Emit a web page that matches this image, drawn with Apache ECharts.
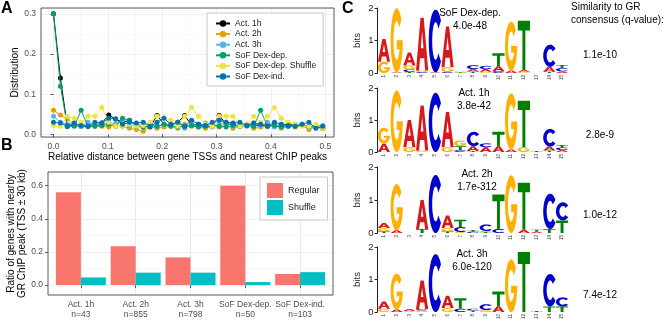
<!DOCTYPE html>
<html>
<head>
<meta charset="utf-8">
<script src="https://cdn.jsdelivr.net/npm/echarts@6/dist/echarts.min.js"></script>
<style>html,body{margin:0;padding:0;background:#fff}#main{width:670px;height:323px}</style>
</head>
<body>
<div id="main"></div>
<script>
var FONT = 'Liberation Sans, Arial, sans-serif';

// ---- panel A: distance distribution ----
var distX = [0, 0.0127, 0.0254, 0.0381, 0.0508, 0.0635, 0.0762, 0.0889, 0.1016, 0.1143,
  0.127, 0.1397, 0.1524, 0.1651, 0.1778, 0.1905, 0.2032, 0.2159, 0.2286, 0.2413,
  0.254, 0.2667, 0.2794, 0.2921, 0.3048, 0.3175, 0.3302, 0.3429, 0.3556, 0.3683,
  0.381, 0.3937, 0.4064, 0.4191, 0.4318, 0.4445, 0.4572, 0.4699, 0.4826, 0.4953];
var act1h = [.300, .140, .020, .022, .020, .020, .022, .028, .048, .038, .030, .035, .022, .020, .018, .047, .025, .022, .030, .047,
  .022, .025, .018, .020, .047, .025, .025, .020, .025, .025, .020, .025, .020, .022, .025, .022, .022, .020, .018, .015];
var act2h = [.060, .048, .038, .025, .020, .022, .020, .020, .018, .025, .020, .015, .012, .008, .020, .015, .018, .020, .015, .025,
  .020, .018, .015, .020, .018, .022, .015, .020, .022, .015, .018, .020, .022, .015, .020, .018, .022, .012, .020, .015];
var act3h = [.045, .030, .025, .028, .020, .030, .025, .022, .030, .025, .035, .020, .025, .022, .028, .020, .025, .022, .030, .015,
  .025, .020, .028, .018, .025, .030, .020, .025, .020, .028, .022, .030, .018, .025, .020, .022, .025, .018, .020, .022];
var dexDep = [.300, .120, .022, .020, .060, .020, .020, .022, .025, .020, .040, .035, .020, .018, .022, .020, .025, .020, .018, .020,
  .022, .018, .020, .025, .020, .018, .022, .020, .022, .020, .060, .020, .022, .018, .020, .025, .022, .020, .020, .018];
var dexDepShuffle = [.022, .020, .045, .040, .030, .045, .045, .067, .030, .020, .022, .025, .020, .022, .030, .045, .040, .035, .020, .045,
  .067, .045, .025, .020, .045, .045, .045, .020, .025, .045, .030, .045, .067, .040, .030, .025, .020, .020, .025, .015];
var dexInd = [.030, .028, .020, .028, .022, .020, .030, .028, .040, .038, .025, .030, .028, .030, .020, .030, .040, .025, .030, .020,
  .035, .025, .022, .030, .035, .030, .028, .030, .022, .028, .025, .020, .030, .025, .022, .020, .025, .030, .015, .020];
var distNames = ['Act. 1h', 'Act. 2h', 'Act. 3h', 'SoF Dex-dep.', 'SoF Dex-dep. Shuffle', 'SoF Dex-ind.'];
var distColors = ['#000000', '#E69F00', '#56B4E9', '#009E73', '#F0E442', '#0072B2'];
var distTicks = [0, 0.1, 0.2, 0.3, 0.4, 0.5];
var distYTicks = [0, 0.1, 0.2, 0.3];

// ---- panel B: ratio of genes with nearby peak ----
var ratioCats = ['Act. 1h\nn=43', 'Act. 2h\nn=855', 'Act. 3h\nn=798', 'SoF Dex-dep.\nn=50', 'SoF Dex-ind.\nn=103'];
var ratioRegular = [0.56, 0.235, 0.167, 0.60, 0.067];
var ratioShuffle = [0.046, 0.075, 0.075, 0.018, 0.078];
var ratioYTicks = [0, 0.2, 0.4, 0.6];

// ---- panel C: motif logos (letter, bits), bottom to top ----
var logoDexDep = [
  [['G', .35], ['A', .70]], [['A', .02], ['G', 1.97]], [['T', .03], ['C', .08], ['G', .12], ['A', .40]],
  [['C', .03], ['G', .05], ['A', 1.62]], [['A', .02], ['C', 1.93]], [['C', .03], ['G', .15], ['A', 1.25]],
  [['T', .02], ['G', .03]], [['T', .05], ['A', .07], ['C', .12]], [['G', .04], ['A', .08], ['C', .10]],
  [['C', .06], ['A', .15], ['T', .40]], [['A', .08], ['G', 1.50]], [['G', .04], ['A', .05], ['T', 1.52]],
  [], [['T', .04], ['A', .15], ['C', .68]], [['A', .05], ['C', .10], ['T', .10]]
];
var logoAct1h = [
  [['A', .26], ['G', .50]], [['G', 1.92]], [['G', .15], ['A', .85]],
  [['G', .05], ['A', 1.40]], [['C', 1.85]], [['G', .15], ['A', 1.10]],
  [['C', .06], ['T', .12], ['G', .18]], [['T', .03], ['A', .15], ['C', .45]], [['A', .15], ['C', .12]],
  [['A', .18], ['T', .45]], [['A', .08], ['G', 1.75]], [['G', .15], ['T', 1.45]],
  [['T', .03]], [['T', .05], ['A', .12], ['C', .55]], [['A', .06], ['C', .08], ['T', .08]]
];
var logoAct2h = [
  [['T', .05], ['G', .10], ['A', .15]], [['A', .08], ['G', 1.40]], [],
  [['T', .12], ['A', .88]], [['C', 1.76]], [['T', .05], ['G', .10], ['A', .38]],
  [['G', .03], ['C', .15], ['T', .22]], [['C', .04], ['T', .05]], [['T', .03], ['G', .03], ['C', .20]],
  [['C', .12], ['T', 1.05]], [['G', 1.75]], [['A', .10], ['T', 1.42]],
  [['A', .04], ['T', .06]], [['T', .12], ['C', 1.07]], [['T', .38], ['C', .55]]
];
var logoAct3h = [
  [['G', .10], ['A', .22]], [['A', .08], ['G', 1.10]], [['G', .03], ['A', .06]],
  [['G', .05], ['C', .04], ['A', .88]], [['C', 1.78]], [['G', .12], ['A', .38]],
  [['C', .10], ['T', .32]], [['T', .05], ['C', .05]], [['G', .06], ['C', .18]],
  [['A', .18], ['T', .45]], [['G', 1.62]], [['T', 1.85]],
  [['T', .03]], [['T', .17], ['C', 1.0]], [['T', .17], ['C', .28]]
];
var logos = [logoDexDep, logoAct1h, logoAct2h, logoAct3h];
var logoTitles = ['SoF Dex-dep.\n4.0e-48', 'Act. 1h\n3.8e-42', 'Act. 2h\n1.7e-312', 'Act. 3h\n6.0e-120'];
var logoQ = ['1.1e-10', '2.8e-9', '1.0e-12', '7.4e-12'];
var logoPositions = [1, 2, 3, 4, 5, 6, 7, 8, 9, 10, 11, 12, 13, 14, 15];

// layout
var gridA = {left: 41, top: 8, width: 293, height: 129};
var gridB = {left: 48, top: 172, width: 285, height: 123};
var logoTops = [8, 88, 167, 247];
var logoHeights = [65, 64, 66, 65];
var logoLeft = 377.6, logoWidth = 190.8;
var logoTitlePos = [[470, 13], [474, 93], [477, 174], [472, 254]];

// letter glyphs (0..100 box)
function arcPts(cx, cy, rx, ry, a0, a1, n) {
  var pts = [];
  for (var i = 0; i <= n; i++) {
    var t = (a0 + (a1 - a0) * i / n) * Math.PI / 180;
    pts.push([cx + rx * Math.cos(t), cy - ry * Math.sin(t)]);
  }
  return pts;
}
function poly(pts) {
  return 'M' + pts.map(function (p) { return p[0].toFixed(2) + ',' + p[1].toFixed(2); }).join('L') + 'Z';
}
var glyphA = 'M0,100L37,0L63,0L100,100L75,100L67,77L33,77L25,100Z M39,58L61,58L50,25Z';
var glyphC = poly(arcPts(50, 50, 50, 50, 40, 320, 48).concat(arcPts(50, 50, 25, 30, 320, 40, 48)));
var glyphG = poly(arcPts(50, 50, 50, 50, 40, 360, 48)
  .concat([[100, 50], [50, 50], [50, 64], [73, 64]])
  .concat(arcPts(50, 50, 26, 30, 332, 40, 48)));
var glyphT = 'M0,0L100,0L100,20L62,20L62,100L38,100L38,20L0,20Z';
var glyphs = [glyphA, glyphC, glyphG, glyphT];
var glyphColors = ['#D7191C', '#0000CC', '#FFB000', '#008000'];

function stackLetters(logo) {
  var out = [];
  logo.forEach(function (col, i) {
    var base = 0;
    col.forEach(function (l) {
      out.push([i + 1, base, base + l[1], 'ACGT'.indexOf(l[0])]);
      base += l[1];
    });
  });
  return out;
}
function renderLetter(params, api) {
  var p = api.value(0), y0 = api.value(1), y1 = api.value(2), code = api.value(3);
  var tl = api.coord([p - 0.48, y1]);
  var br = api.coord([p + 0.48, y0]);
  var h = br[1] - tl[1];
  if (h < 0.3) return null;
  return {
    type: 'path',
    shape: {pathData: glyphs[code], x: tl[0], y: tl[1], width: br[0] - tl[0], height: h, layout: 'cover'},
    style: {fill: glyphColors[code]}
  };
}

var myChart = echarts.init(document.getElementById('main'));

var grids = [gridA, gridB];
logoTops.forEach(function (t, i) {
  grids.push({left: logoLeft, top: t, width: logoWidth, height: logoHeights[i]});
});

var labelStyle = {fontFamily: FONT, fontSize: 8.5, color: '#4D4D4D'};
var tickStyle = {show: true, length: 3, lineStyle: {color: '#333', width: 0.8}};
var majorGrid = {show: true, lineStyle: {color: '#EBEBEB', width: 1}};
var minorGrid = {show: true, lineStyle: {color: '#F2F2F2', width: 0.6}};

var xAxes = [
  // A major
  {type: 'value', gridIndex: 0, min: -0.023, max: 0.516, minInterval: 0.1, maxInterval: 0.1,
    axisLine: {show: false}, axisTick: Object.assign({customValues: distTicks}, tickStyle),
    axisLabel: Object.assign({customValues: distTicks, margin: 5, formatter: function (v) { return v.toFixed(1); }}, labelStyle),
    splitLine: majorGrid,
    name: 'Relative distance between gene TSSs and nearest ChIP peaks', nameLocation: 'middle', nameGap: 13,
    nameTextStyle: {fontFamily: FONT, fontSize: 10, color: '#000'}},
  // A minor
  {type: 'value', gridIndex: 0, min: -0.023, max: 0.516, minInterval: 0.05, maxInterval: 0.05,
    axisLine: {show: false}, axisTick: {show: false}, axisLabel: {show: false}, splitLine: minorGrid},
  // B
  {type: 'value', gridIndex: 1, min: 0.4, max: 5.6, minInterval: 1, maxInterval: 1,
    axisLine: {show: false}, axisTick: Object.assign({customValues: [1, 2, 3, 4, 5]}, tickStyle),
    axisLabel: Object.assign({customValues: [1, 2, 3, 4, 5], margin: 5, lineHeight: 10,
      formatter: function (v) { return ratioCats[Math.round(v) - 1]; }}, labelStyle),
    splitLine: majorGrid}
];
var yAxes = [
  {type: 'value', gridIndex: 0, min: -0.0066, max: 0.3146, minInterval: 0.1, maxInterval: 0.1,
    axisLine: {show: false}, axisTick: Object.assign({customValues: distYTicks}, tickStyle),
    axisLabel: Object.assign({customValues: distYTicks, margin: 5, formatter: function (v) { return v.toFixed(1); }}, labelStyle),
    splitLine: majorGrid,
    name: 'Distribution', nameLocation: 'middle', nameGap: 21,
    nameTextStyle: {fontFamily: FONT, fontSize: 10, color: '#000'}},
  {type: 'value', gridIndex: 0, min: -0.0066, max: 0.3146, minInterval: 0.05, maxInterval: 0.05,
    axisLine: {show: false}, axisTick: {show: false}, axisLabel: {show: false}, splitLine: minorGrid},
  {type: 'value', gridIndex: 1, min: -0.06, max: 0.683, minInterval: 0.2, maxInterval: 0.2,
    axisLine: {show: false}, axisTick: Object.assign({customValues: ratioYTicks}, tickStyle),
    axisLabel: Object.assign({customValues: ratioYTicks, margin: 5, formatter: function (v) { return v.toFixed(1); }}, labelStyle),
    splitLine: majorGrid,
    name: 'Ratio of genes with nearby\nGR ChIP peak (TSS \u00b1 30 kb)', nameLocation: 'middle', nameGap: 17,
    nameTextStyle: {fontFamily: FONT, fontSize: 10, color: '#000', lineHeight: 11}},
  {type: 'value', gridIndex: 1, min: -0.06, max: 0.683, minInterval: 0.1, maxInterval: 0.1,
    axisLine: {show: false}, axisTick: {show: false}, axisLabel: {show: false}, splitLine: minorGrid}
];
logos.forEach(function (lg, i) {
  xAxes.push({type: 'value', gridIndex: 2 + i, min: 0.5, max: 15.5, minInterval: 1, maxInterval: 1,
    axisLine: {show: false}, axisTick: {show: false}, splitLine: {show: false},
    axisLabel: {customValues: logoPositions, rotate: 90, fontSize: 4.5, margin: 2, color: '#333', fontFamily: FONT}});
  yAxes.push({type: 'value', gridIndex: 2 + i, min: 0, max: 2, interval: 1,
    axisLine: {show: true, lineStyle: {color: '#222', width: 1}},
    axisTick: {show: true, length: 3, lineStyle: {color: '#222'}},
    axisLabel: {fontFamily: FONT, fontSize: 9.5, color: '#222', margin: 4},
    splitLine: {show: false},
    name: 'bits', nameLocation: 'middle', nameGap: 15,
    nameTextStyle: {fontFamily: FONT, fontSize: 9.5, color: '#222'}});
});

var series = [];
[act1h, act2h, act3h, dexDep, dexDepShuffle, dexInd].forEach(function (ys, i) {
  series.push({
    name: distNames[i], type: 'line', xAxisIndex: 0, yAxisIndex: 0,
    data: ys.map(function (y, k) { return [distX[k], y]; }),
    symbol: 'circle', symbolSize: 5, showSymbol: true,
    lineStyle: {width: 1, color: distColors[i]}, itemStyle: {color: distColors[i]},
    z: 3 + i
  });
});
series.push({name: 'Regular', type: 'bar', xAxisIndex: 2, yAxisIndex: 2, barWidth: 25, barGap: '0%',
  itemStyle: {color: '#F8766D'}, data: ratioRegular.map(function (v, i) { return [i + 1, v]; })});
series.push({name: 'Shuffle', type: 'bar', xAxisIndex: 2, yAxisIndex: 2, barWidth: 25, barGap: '0%',
  itemStyle: {color: '#00BFC4'}, data: ratioShuffle.map(function (v, i) { return [i + 1, v]; })});
logos.forEach(function (lg, i) {
  series.push({type: 'custom', xAxisIndex: 3 + i, yAxisIndex: 4 + i, renderItem: renderLetter,
    encode: {x: 0, y: [1, 2]}, data: stackLetters(lg), silent: true});
});

var graphics = [];
function txt(s, x, y, opts) {
  graphics.push({type: 'text', x: x, y: y, z: 100, silent: true,
    style: Object.assign({text: s, font: '10px ' + FONT, fill: '#000', textAlign: 'left', textVerticalAlign: 'middle'}, opts || {})});
}
txt('A', 1, 9, {font: 'bold 16px ' + FONT});
txt('B', 1, 146, {font: 'bold 16px ' + FONT});
txt('C', 342, 9, {font: 'bold 16px ' + FONT});
logoTitles.forEach(function (t, i) {
  txt(t, logoTitlePos[i][0], logoTitlePos[i][1] + 6.5, {textAlign: 'center', lineHeight: 13});
});
txt('Similarity to GR\nconsensus (q-value):', 571, 13.5, {lineHeight: 13});
logoQ.forEach(function (q, i) {
  txt(q, 600, [55, 135, 215, 295][i], {textAlign: 'center'});
});
// panel borders on top
[gridA, gridB].forEach(function (g) {
  graphics.push({type: 'rect', z: 90, silent: true,
    shape: {x: g.left, y: g.top, width: g.width, height: g.height},
    style: {fill: null, stroke: '#333', lineWidth: 0.8}});
});

var option = {
  backgroundColor: '#fff',
  animation: false,
  textStyle: {fontFamily: FONT},
  grid: grids,
  xAxis: xAxes,
  yAxis: yAxes,
  legend: [
    {data: distNames, orient: 'vertical', left: 207, top: 13, itemWidth: 14, itemHeight: 8, itemGap: 1.6,
      padding: [6, 7, 5, 8], backgroundColor: '#fff', borderColor: '#C8C8C8', borderWidth: 1,
      textStyle: {fontFamily: FONT, fontSize: 8.5, color: '#1A1A1A'}, selectedMode: false, z: 95},
    {data: ['Regular', 'Shuffle'], orient: 'vertical', left: 260, top: 177, itemWidth: 16, itemHeight: 15, itemGap: 2,
      icon: 'rect', padding: [6, 8, 5, 7], backgroundColor: '#fff', borderColor: '#C8C8C8', borderWidth: 1,
      textStyle: {fontFamily: FONT, fontSize: 9, color: '#1A1A1A'}, selectedMode: false, z: 95}
  ],
  graphic: graphics,
  series: series
};
myChart.setOption(option);
</script>
</body>
</html>
